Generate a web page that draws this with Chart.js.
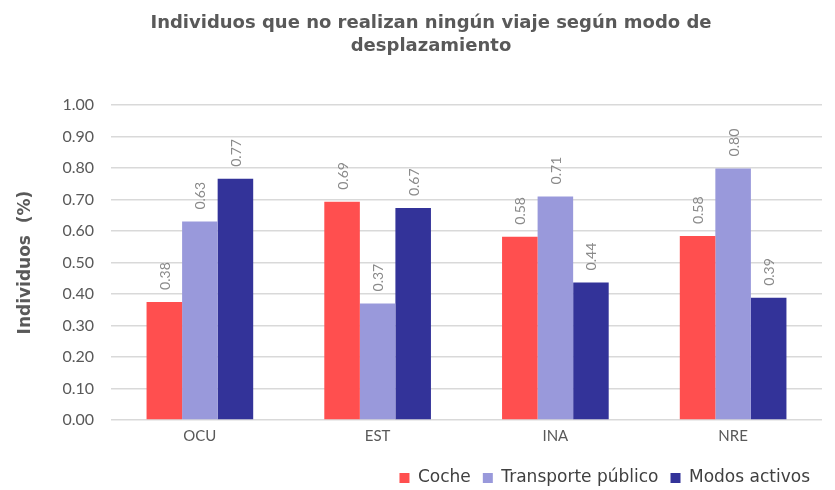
<!DOCTYPE html>
<html><head><meta charset="utf-8">
<script src="https://cdn.jsdelivr.net/npm/chart.js@4.4.1/dist/chart.umd.min.js"></script>
<style>html,body{margin:0;padding:0;background:#fff}#wrap{width:835px;height:490px}</style>
</head><body><div id="wrap"><canvas id="c"></canvas></div>
<script>
const categories = ["OCU", "EST", "INA", "NRE"];
const seriesNames = ["Coche", "Transporte público", "Modos activos"];
const coche = [0.375, 0.693, 0.582, 0.584];
const transporte = [0.630, 0.370, 0.710, 0.799];
const modos = [0.766, 0.673, 0.437, 0.388];
const yTicks = [0, 0.1, 0.2, 0.3, 0.4, 0.5, 0.6, 0.7, 0.8, 0.9, 1.0];
const titleLines = ["Individuos que no realizan ningún viaje según modo de", "desplazamiento"];
const yTitle = "Individuos  (%)";

const colors = ["#FF4F4F", "#9999DB", "#333399"];

const labelPlugin = {
  id: 'barLabels',
  afterDatasetsDraw(chart) {
    const ctx = chart.ctx;
    ctx.save();
    ctx.fillStyle = '#8a8a8a';
    ctx.font = '14px Lato, sans-serif';
    ctx.textAlign = 'left';
    ctx.textBaseline = 'middle';
    chart.data.datasets.forEach((ds, di) => {
      const meta = chart.getDatasetMeta(di);
      meta.data.forEach((bar, i) => {
        const v = ds.data[i];
        ctx.save();
        ctx.translate(bar.x + 1, bar.y - 12);
        ctx.rotate(-Math.PI / 2);
        ctx.fillText(v.toFixed(2), 0, 0);
        ctx.restore();
      });
    });
    ctx.restore();
  }
};

new Chart(document.getElementById('c'), {
  type: 'bar',
  data: {
    labels: categories,
    datasets: [
      { label: seriesNames[0], data: coche, backgroundColor: colors[0] },
      { label: seriesNames[1], data: transporte, backgroundColor: colors[1] },
      { label: seriesNames[2], data: modos, backgroundColor: colors[2] }
    ]
  },
  options: {
    responsive: true,
    maintainAspectRatio: false,
    animation: false,
    devicePixelRatio: 1,
    layout: { padding: { left: 40, right: 13, top: 0, bottom: -6.5 } },
    datasets: { bar: { categoryPercentage: 0.6, barPercentage: 1.0 } },
    plugins: {
      title: {
        display: true,
        text: titleLines,
        color: '#595959',
        font: { family: '"DejaVu Sans", sans-serif', size: 18, weight: 'bold', lineHeight: 1.28 },
        padding: { top: 11.5, bottom: 47.5 }
      },
      legend: {
        display: true,
        position: 'bottom',
        align: 'end',
        labels: {
          color: '#404040',
          boxWidth: 10, boxHeight: 10,
          padding: 12,
          font: { family: '"DejaVu Sans", sans-serif', size: 17 }
        }
      },
      tooltip: { enabled: false }
    },
    scales: {
      x: {
        afterFit(scale) { scale.height = 37.5; },
        grid: { display: false, drawTicks: false },
        border: { display: false },
        ticks: { color: '#595959', font: { family: 'Lato, sans-serif', size: 15 }, padding: 7 }
      },
      y: {
        min: 0, max: 1,
        afterFit(scale) { scale.width = 71; },
        afterBuildTicks(scale) { scale.ticks = yTicks.map(v => ({ value: v })); },
        grid: { color: '#d9d9d9', lineWidth: 1.5, drawTicks: true, tickLength: 12, tickColor: '#ffffff' },
        border: { display: false },
        ticks: { color: '#595959', font: { family: 'Lato, sans-serif', size: 16 }, padding: 5,
          callback: v => Number(v).toFixed(2) },
        title: { display: true, text: yTitle, color: '#595959',
          font: { family: '"DejaVu Sans", sans-serif', size: 17, weight: 'bold' }, padding: { top: -25, bottom: 0 } }
      }
    }
  },
  plugins: [labelPlugin]
});
</script></body></html>
